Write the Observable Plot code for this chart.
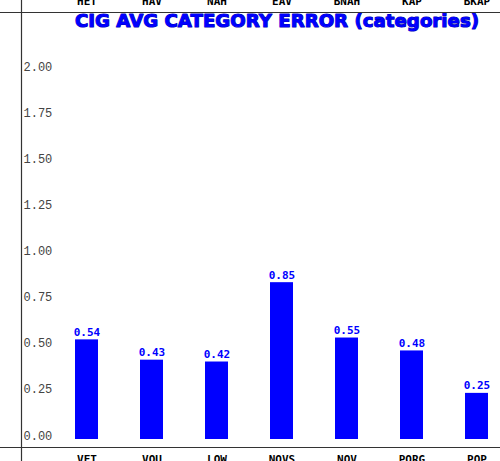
<!DOCTYPE html>
<html>
<head>
<meta charset="utf-8">
<script src="https://cdn.jsdelivr.net/npm/d3@7"></script>
<script src="https://cdn.jsdelivr.net/npm/@observablehq/plot@0.6"></script>
<style>
  html, body { margin: 0; padding: 0; background: #fff; }
  #chart svg { display: block; }
</style>
</head>
<body>
<div id="chart"></div>
<script>
const categories = ["VET", "VOU", "LOW", "NOVS", "NOV", "PORG", "POP"];
const values = [0.54, 0.43, 0.42, 0.85, 0.55, 0.48, 0.25];
const topLabels = ["HET", "HAV", "NAH", "EAV", "BNAH", "KAP", "BKAP"];
const yTicks = [0, 0.25, 0.5, 0.75, 1.0, 1.25, 1.5, 1.75, 2.0];
const title = "CIG AVG CATEGORY ERROR (categories)";

const data = categories.map((c, i) => ({cat: c, value: values[i], top: topLabels[i]}));

const W = 500, H = 461;
const mL = 21, mT = 12, mB = 14, mR = 0;

const chart = Plot.plot({
  width: W,
  height: H,
  marginLeft: mL,
  marginRight: mR,
  marginTop: mT,
  marginBottom: mB,
  style: {background: "#fff", overflow: "visible"},
  x: {domain: categories, range: [54, 509], paddingInner: 0.646, paddingOuter: 0.323, axis: null},
  y: {domain: [0, 2], range: [439, 70], axis: null},
  marks: [
    Plot.barY(data, {x: "cat", y: "value", fill: "#0000ff"}),
    Plot.text(data, {
      x: "cat", y: "value", text: d => d.value.toFixed(2),
      lineAnchor: "bottom", dy: -4,
      fill: "#0000ff", fontFamily: "DejaVu Sans Mono", fontWeight: "bold", fontSize: 11,
      letterSpacing: 1
    }),
    Plot.text(yTicks, {
      y: d => d, text: d => d.toFixed(2), frameAnchor: "left", dx: 2,
      textAnchor: "start", lineAnchor: "bottom",
      fill: "#444", fontFamily: "Liberation Mono", fontSize: 12, letterSpacing: 1
    }),
    Plot.text(data, {
      x: "cat", text: "top", frameAnchor: "top", lineAnchor: "bottom", dy: -8,
      fill: "#000", fontFamily: "DejaVu Sans Mono", fontWeight: "bold", fontSize: 11
    }),
    Plot.text(data, {
      x: "cat", text: "cat", frameAnchor: "bottom", lineAnchor: "top", dy: 8,
      fill: "#000", fontFamily: "DejaVu Sans Mono", fontWeight: "bold", fontSize: 11
    }),
    Plot.text([title], {
      text: d => d, frameAnchor: "top", dx: 16, lineAnchor: "top", dy: 2,
      fill: "#0000ff", stroke: "#0000b0", strokeWidth: 1.1,
      fontFamily: "DejaVu Sans", fontWeight: "bold", fontSize: 18.2
    })
  ]
});

// panel border lines
const svg = d3.select(chart);
const g = svg.append("g").attr("stroke", "#333").attr("stroke-width", 1.2);
g.append("line").attr("x1", 0).attr("x2", W).attr("y1", mT + 0.5).attr("y2", mT + 0.5);
g.append("line").attr("x1", 0).attr("x2", W).attr("y1", H - mB + 0.5).attr("y2", H - mB + 0.5);
g.append("line").attr("x1", mL + 0.5).attr("x2", mL + 0.5).attr("y1", 0).attr("y2", H);

document.getElementById("chart").appendChild(chart);
</script>
</body>
</html>
